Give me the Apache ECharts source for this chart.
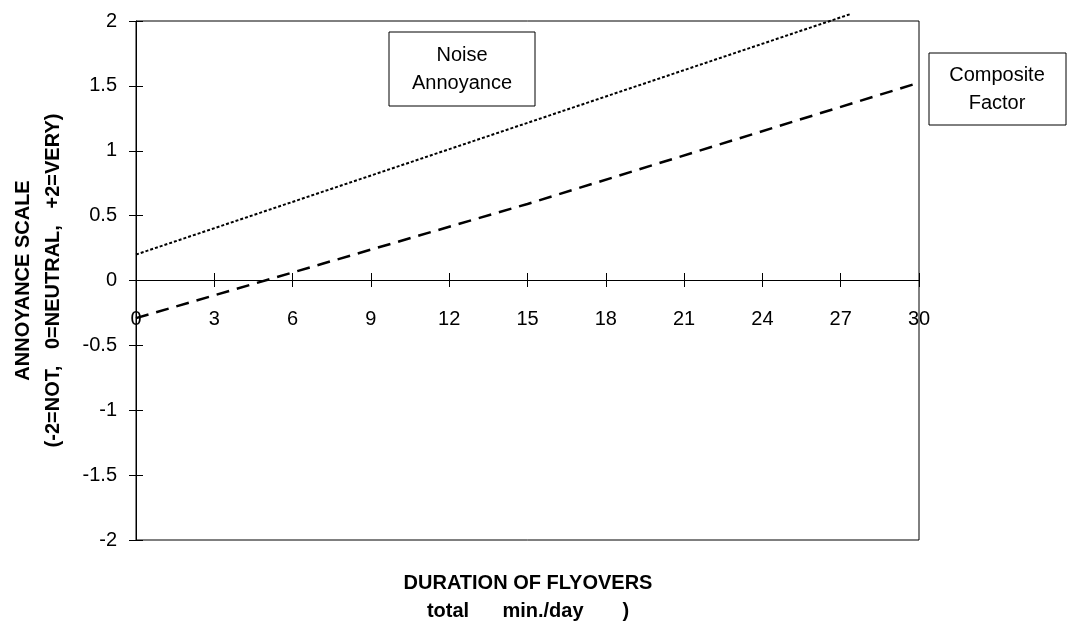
<!DOCTYPE html>
<html>
<head>
<meta charset="utf-8">
<script src="https://cdn.jsdelivr.net/npm/echarts@6/dist/echarts.min.js"></script>
<style>
html, body { margin: 0; padding: 0; background: #fff; }
#main { width: 1069px; height: 631px; }
</style>
</head>
<body>
<div id="main"></div>
<script>
// values: [duration (min/day), annoyance]
var noiseAnnoyance = [[0, 0.2], [15, 1.215], [27.4, 2.055]];
var compositeFactor = [[0, -0.29], [15, 0.59], [30, 1.525]];

var xTicks = [0, 3, 6, 9, 12, 15, 18, 21, 24, 27, 30];
var yTicks = [-2, -1.5, -1, -0.5, 0, 0.5, 1, 1.5, 2];

var seriesNames = ['Noise\nAnnoyance', 'Composite\nFactor'];
var xTitle = ['DURATION OF FLYOVERS', 'total      min./day       )'];
var yTitle = ['ANNOYANCE SCALE', '(-2=NOT,   0=NEUTRAL,   +2=VERY)'];

var font = 'Liberation Sans, Arial, sans-serif';

var myChart = echarts.init(document.getElementById('main'));

var tickStyle = { color : '#000', width : 1 };

option = {
	backgroundColor : '#fff',
	animation : false,
	textStyle : { fontFamily : font, color : '#000' },
	grid : [ {
		// whole plot box
		left : 136,
		right : 150,
		top : 21,
		bottom : 91,
		show : true,
		borderColor : '#000',
		borderWidth : 1,
		outerBoundsMode : 'none',
		containLabel : false
	}, {
		// upper half, its bottom edge is the zero line (carries the x labels)
		left : 136,
		right : 150,
		top : 21,
		bottom : 351,
		outerBoundsMode : 'none',
		containLabel : false
	}, {
		// same box again, only for the inner half of the y ticks
		left : 136,
		right : 150,
		top : 21,
		bottom : 91,
		outerBoundsMode : 'none',
		containLabel : false
	} ],
	xAxis : [ {
		gridIndex : 0,
		type : 'value',
		min : xTicks[0],
		max : xTicks[xTicks.length - 1],
		interval : 3,
		axisLine : { show : false },
		axisTick : { show : false },
		axisLabel : { show : false },
		splitLine : { show : false }
	}, {
		gridIndex : 1,
		type : 'value',
		position : 'bottom',
		min : xTicks[0],
		max : xTicks[xTicks.length - 1],
		interval : 3,
		axisLine : { show : true, onZero : false, lineStyle : tickStyle },
		axisTick : { show : true, length : 7, inside : true, lineStyle : tickStyle },
		axisLabel : { show : true, margin : 29, fontSize : 20, color : '#000', fontFamily : font },
		splitLine : { show : false }
	}, {
		gridIndex : 1,
		type : 'value',
		position : 'top',
		offset : -259,
		min : xTicks[0],
		max : xTicks[xTicks.length - 1],
		interval : 3,
		axisLine : { show : false, onZero : false },
		axisTick : { show : true, length : 7, inside : true, lineStyle : tickStyle },
		axisLabel : { show : false },
		splitLine : { show : false }
	}, {
		gridIndex : 2,
		type : 'value',
		show : false,
		min : 0,
		max : 30
	} ],
	yAxis : [ {
		gridIndex : 0,
		type : 'value',
		min : yTicks[0],
		max : yTicks[yTicks.length - 1],
		interval : 0.5,
		axisLine : { show : true, onZero : false, lineStyle : tickStyle },
		axisTick : { show : true, length : 7, lineStyle : tickStyle },
		axisLabel : { margin : 19, fontSize : 20, color : '#000', fontFamily : font },
		splitLine : { show : false },
		name : yTitle.join('\n'),
		nameLocation : 'middle',
		nameRotate : 90,
		nameGap : 68,
		nameTextStyle : {
			fontSize : 20,
			fontWeight : 'bold',
			lineHeight : 30,
			color : '#000',
			fontFamily : font
		}
	}, {
		gridIndex : 1,
		type : 'value',
		min : 0,
		max : 2,
		show : false
	}, {
		gridIndex : 2,
		type : 'value',
		position : 'left',
		min : yTicks[0],
		max : yTicks[yTicks.length - 1],
		interval : 0.5,
		axisLine : { show : false, onZero : false },
		axisTick : { show : true, inside : true, length : 7, lineStyle : tickStyle },
		axisLabel : { show : false },
		splitLine : { show : false }
	} ],
	graphic : [ {
		type : 'text',
		x : 528,
		y : 583,
		style : {
			text : xTitle[0],
			align : 'center',
			verticalAlign : 'middle',
			fontSize : 20,
			fontWeight : 'bold',
			fontFamily : font,
			fill : '#000'
		}
	}, {
		type : 'text',
		x : 528,
		y : 611,
		style : {
			text : xTitle[1],
			align : 'center',
			verticalAlign : 'middle',
			fontSize : 20,
			fontWeight : 'bold',
			fontFamily : font,
			fill : '#000'
		}
	}, {
		type : 'group',
		x : 389,
		y : 32,
		children : [ {
			type : 'rect',
			shape : { x : 0, y : 0, width : 146, height : 74 },
			style : { fill : '#fff', stroke : '#000', lineWidth : 1 }
		}, {
			type : 'text',
			x : 73,
			y : 37,
			style : {
				text : seriesNames[0],
				align : 'center',
				verticalAlign : 'middle',
				fontSize : 20,
				lineHeight : 28,
				fontFamily : font,
				fill : '#000'
			}
		} ]
	}, {
		type : 'group',
		x : 929,
		y : 53,
		children : [ {
			type : 'rect',
			shape : { x : 0, y : 0, width : 137, height : 72 },
			style : { fill : '#fff', stroke : '#000', lineWidth : 1 }
		}, {
			type : 'text',
			x : 68,
			y : 36,
			style : {
				text : seriesNames[1],
				align : 'center',
				verticalAlign : 'middle',
				fontSize : 20,
				lineHeight : 28,
				fontFamily : font,
				fill : '#000'
			}
		} ]
	} ],
	series : [ {
		name : 'Noise Annoyance',
		type : 'line',
		xAxisIndex : 0,
		yAxisIndex : 0,
		data : noiseAnnoyance,
		symbol : 'none',
		clip : false,
		lineStyle : { color : '#000', width : 2, type : [ 3, 2 ] }
	}, {
		name : 'Composite Factor',
		type : 'line',
		xAxisIndex : 0,
		yAxisIndex : 0,
		data : compositeFactor,
		symbol : 'none',
		clip : false,
		lineStyle : { color : '#000', width : 2.5, type : [ 13, 8 ] }
	} ]
};

myChart.setOption(option);
</script>
</body>
</html>
